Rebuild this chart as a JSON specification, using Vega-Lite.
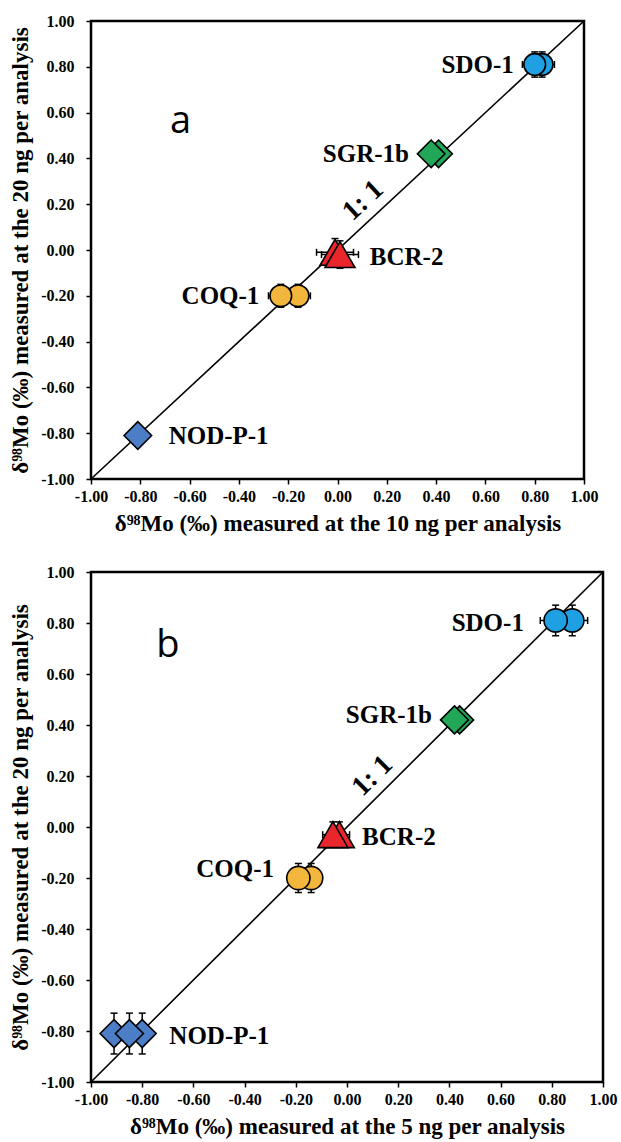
{
  "$schema": "https://vega.github.io/schema/vega-lite/v6.json",
  "padding": {"left": 8, "top": 11, "right": 5, "bottom": 2},
  "spacing": 25,
  "config": {
    "view": {"stroke": "black", "strokeWidth": 2.5},
    "axis": {
      "domain": false, "grid": false, "ticks": true, "tickColor": "black", "tickSize": 5, "tickWidth": 1.5,
      "labelFont": "Liberation Serif", "labelFontWeight": "bold", "labelFontSize": 16, "labelColor": "black", "labelOverlap": false, "labelFlush": false,
      "titleFont": "Liberation Serif", "titleFontWeight": "bold", "titleFontSize": 23, "titleColor": "black"
    },
    "axisX": {"labelPadding": 4, "titlePadding": 8},
    "axisY": {"labelPadding": 12, "titlePadding": 8}
  },
  "datasets": {
    "points": [
      {"panel": "a", "sample": "SDO-1", "x": 0.83, "y": 0.81, "xlo": 0.78, "xhi": 0.88, "ylo": 0.755, "yhi": 0.865},
      {"panel": "a", "sample": "SDO-1", "x": 0.80, "y": 0.81, "xlo": 0.75, "xhi": 0.85, "ylo": 0.755, "yhi": 0.865},
      {"panel": "a", "sample": "SGR-1b", "x": 0.41, "y": 0.42, "xlo": 0.38, "xhi": 0.44, "ylo": 0.39, "yhi": 0.45},
      {"panel": "a", "sample": "SGR-1b", "x": 0.38, "y": 0.42, "xlo": 0.35, "xhi": 0.41, "ylo": 0.39, "yhi": 0.45},
      {"panel": "a", "sample": "BCR-2", "x": -0.01, "y": -0.01, "xlo": -0.085, "xhi": 0.065, "ylo": -0.07, "yhi": 0.05},
      {"panel": "a", "sample": "BCR-2", "x": 0.01, "y": -0.02, "xlo": -0.065, "xhi": 0.085, "ylo": -0.08, "yhi": 0.04},
      {"panel": "a", "sample": "COQ-1", "x": -0.16, "y": -0.20, "xlo": -0.21, "xhi": -0.11, "ylo": -0.25, "yhi": -0.15},
      {"panel": "a", "sample": "COQ-1", "x": -0.23, "y": -0.20, "xlo": -0.28, "xhi": -0.18, "ylo": -0.25, "yhi": -0.15},
      {"panel": "a", "sample": "NOD-P-1", "x": -0.81, "y": -0.81, "xlo": -0.84, "xhi": -0.78, "ylo": -0.84, "yhi": -0.78},
      {"panel": "b", "sample": "SDO-1", "x": 0.88, "y": 0.81, "xlo": 0.82, "xhi": 0.94, "ylo": 0.75, "yhi": 0.87},
      {"panel": "b", "sample": "SDO-1", "x": 0.815, "y": 0.81, "xlo": 0.755, "xhi": 0.875, "ylo": 0.75, "yhi": 0.87},
      {"panel": "b", "sample": "SGR-1b", "x": 0.44, "y": 0.42, "xlo": 0.41, "xhi": 0.47, "ylo": 0.39, "yhi": 0.45},
      {"panel": "b", "sample": "SGR-1b", "x": 0.42, "y": 0.42, "xlo": 0.39, "xhi": 0.45, "ylo": 0.39, "yhi": 0.45},
      {"panel": "b", "sample": "BCR-2", "x": -0.03, "y": -0.03, "xlo": -0.07, "xhi": 0.01, "ylo": -0.08, "yhi": 0.02},
      {"panel": "b", "sample": "BCR-2", "x": -0.055, "y": -0.03, "xlo": -0.095, "xhi": -0.015, "ylo": -0.08, "yhi": 0.02},
      {"panel": "b", "sample": "COQ-1", "x": -0.14, "y": -0.20, "xlo": -0.18, "xhi": -0.10, "ylo": -0.257, "yhi": -0.143},
      {"panel": "b", "sample": "COQ-1", "x": -0.19, "y": -0.20, "xlo": -0.23, "xhi": -0.15, "ylo": -0.257, "yhi": -0.143},
      {"panel": "b", "sample": "NOD-P-1", "x": -0.80, "y": -0.81, "xlo": -0.84, "xhi": -0.76, "ylo": -0.89, "yhi": -0.73},
      {"panel": "b", "sample": "NOD-P-1", "x": -0.91, "y": -0.81, "xlo": -0.95, "xhi": -0.87, "ylo": -0.89, "yhi": -0.73},
      {"panel": "b", "sample": "NOD-P-1", "x": -0.85, "y": -0.81, "xlo": -0.89, "xhi": -0.81, "ylo": -0.89, "yhi": -0.73}
    ],
    "labels": [
      {"panel": "a", "label": "SDO-1", "x": 0.715, "y": 0.81},
      {"panel": "a", "label": "SGR-1b", "x": 0.29, "y": 0.42},
      {"panel": "a", "label": "COQ-1", "x": -0.317, "y": -0.20},
      {"panel": "a", "label": "BCR-2", "x": 0.131, "y": -0.03},
      {"panel": "a", "label": "NOD-P-1", "x": -0.685, "y": -0.814},
      {"panel": "b", "label": "SDO-1", "x": 0.691, "y": 0.80},
      {"panel": "b", "label": "SGR-1b", "x": 0.332, "y": 0.44},
      {"panel": "b", "label": "COQ-1", "x": -0.285, "y": -0.165},
      {"panel": "b", "label": "BCR-2", "x": 0.059, "y": -0.04},
      {"panel": "b", "label": "NOD-P-1", "x": -0.694, "y": -0.82}
    ],
    "one": [{}]
  },
  "vconcat": [
    {
      "width": 493, "height": 458,
      "layer": [
        {"data": {"name": "one"},
         "mark": {"type": "rule", "color": "black", "strokeWidth": 1.6},
         "encoding": {
           "x": {"datum": -1, "type": "quantitative", "scale": {"domain": [-1, 1], "nice": false, "zero": false},
                 "axis": {"values": [-1, -0.8, -0.6, -0.4, -0.2, 0, 0.2, 0.4, 0.6, 0.8, 1], "labelExpr": "replace(format(datum.value, '.2f'), '\u2212', '-')", "title": "δ⁹⁸Mo (‰) measured at the 10 ng per analysis"}},
           "y": {"datum": -1, "type": "quantitative", "scale": {"domain": [-1, 1], "nice": false, "zero": false},
                 "axis": {"values": [-1, -0.8, -0.6, -0.4, -0.2, 0, 0.2, 0.4, 0.6, 0.8, 1], "labelExpr": "replace(format(datum.value, '.2f'), '\u2212', '-')", "title": "δ⁹⁸Mo (‰) measured at the 20 ng per analysis"}},
           "x2": {"datum": 1}, "y2": {"datum": 1}}},
        {"data": {"name": "points"}, "transform": [{"filter": "datum.panel == 'a'"}],
         "mark": {"type": "rule", "color": "black", "strokeWidth": 1.5},
         "encoding": {"x": {"field": "xlo", "type": "quantitative"}, "x2": {"field": "xhi"}, "y": {"field": "y", "type": "quantitative"}}},
        {"data": {"name": "points"}, "transform": [{"filter": "datum.panel == 'a'"}],
         "mark": {"type": "rule", "color": "black", "strokeWidth": 1.5},
         "encoding": {"x": {"field": "x", "type": "quantitative"}, "y": {"field": "ylo", "type": "quantitative"}, "y2": {"field": "yhi"}}},
        {"data": {"name": "points"}, "transform": [{"filter": "datum.panel == 'a'"}],
         "mark": {"type": "tick", "orient": "vertical", "color": "black", "size": 7, "thickness": 1.5, "opacity": 1},
         "encoding": {"x": {"field": "xlo", "type": "quantitative"}, "y": {"field": "y", "type": "quantitative"}}},
        {"data": {"name": "points"}, "transform": [{"filter": "datum.panel == 'a'"}],
         "mark": {"type": "tick", "orient": "vertical", "color": "black", "size": 7, "thickness": 1.5, "opacity": 1},
         "encoding": {"x": {"field": "xhi", "type": "quantitative"}, "y": {"field": "y", "type": "quantitative"}}},
        {"data": {"name": "points"}, "transform": [{"filter": "datum.panel == 'a'"}],
         "mark": {"type": "tick", "orient": "horizontal", "color": "black", "size": 7, "thickness": 1.5, "opacity": 1},
         "encoding": {"x": {"field": "x", "type": "quantitative"}, "y": {"field": "ylo", "type": "quantitative"}}},
        {"data": {"name": "points"}, "transform": [{"filter": "datum.panel == 'a'"}],
         "mark": {"type": "tick", "orient": "horizontal", "color": "black", "size": 7, "thickness": 1.5, "opacity": 1},
         "encoding": {"x": {"field": "x", "type": "quantitative"}, "y": {"field": "yhi", "type": "quantitative"}}},
        {"data": {"name": "points"}, "transform": [{"filter": "datum.panel == 'a' && (datum.sample == 'SDO-1' || datum.sample == 'COQ-1')"}],
         "mark": {"type": "point", "shape": "circle", "filled": true, "size": 470, "stroke": "black", "strokeWidth": 1.6, "opacity": 1},
         "encoding": {"x": {"field": "x", "type": "quantitative"}, "y": {"field": "y", "type": "quantitative"},
           "fill": {"field": "sample", "type": "nominal", "legend": null, "scale": {"domain": ["SDO-1", "SGR-1b", "BCR-2", "COQ-1", "NOD-P-1"], "range": ["#1FA0E2", "#22A658", "#E8262B", "#F3B63C", "#4B7EC6"]}}}},
        {"data": {"name": "points"}, "transform": [{"filter": "datum.panel == 'a' && (datum.sample == 'SGR-1b' || datum.sample == 'NOD-P-1')"}],
         "mark": {"type": "point", "shape": "diamond", "filled": true, "size": 760, "stroke": "black", "strokeWidth": 1.6, "opacity": 1},
         "encoding": {"x": {"field": "x", "type": "quantitative"}, "y": {"field": "y", "type": "quantitative"},
           "fill": {"field": "sample", "type": "nominal", "legend": null}}},
        {"data": {"name": "points"}, "transform": [{"filter": "datum.panel == 'a' && datum.sample == 'BCR-2'"}],
         "mark": {"type": "point", "shape": "triangle-up", "filled": true, "size": 900, "stroke": "black", "strokeWidth": 1.6, "opacity": 1},
         "encoding": {"x": {"field": "x", "type": "quantitative"}, "y": {"field": "y", "type": "quantitative"},
           "fill": {"field": "sample", "type": "nominal", "legend": null}}},
        {"data": {"name": "labels"}, "transform": [{"filter": "datum.panel == 'a' && (datum.label == 'SDO-1' || datum.label == 'SGR-1b' || datum.label == 'COQ-1')"}],
         "mark": {"type": "text", "align": "right", "baseline": "middle", "font": "Liberation Serif", "fontWeight": "bold", "fontSize": 25, "color": "black"},
         "encoding": {"x": {"field": "x", "type": "quantitative"}, "y": {"field": "y", "type": "quantitative"}, "text": {"field": "label"}}},
        {"data": {"name": "labels"}, "transform": [{"filter": "datum.panel == 'a' && (datum.label == 'BCR-2' || datum.label == 'NOD-P-1')"}],
         "mark": {"type": "text", "align": "left", "baseline": "middle", "font": "Liberation Serif", "fontWeight": "bold", "fontSize": 25, "color": "black"},
         "encoding": {"x": {"field": "x", "type": "quantitative"}, "y": {"field": "y", "type": "quantitative"}, "text": {"field": "label"}}},
        {"data": {"name": "one"},
         "mark": {"type": "text", "text": "1: 1", "angle": -43, "align": "center", "baseline": "middle", "font": "Liberation Serif", "fontWeight": "bold", "fontSize": 28, "color": "black"},
         "encoding": {"x": {"datum": 0.104}, "y": {"datum": 0.215}}},
        {"data": {"name": "one"},
         "mark": {"type": "text", "text": "a", "align": "center", "baseline": "middle", "font": "Open Sans", "fontSize": 38, "color": "black"},
         "encoding": {"x": {"datum": -0.637}, "y": {"datum": 0.56}}}
      ]
    },
    {
      "width": 512, "height": 510,
      "layer": [
        {"data": {"name": "one"},
         "mark": {"type": "rule", "color": "black", "strokeWidth": 1.6},
         "encoding": {
           "x": {"datum": -1, "type": "quantitative", "scale": {"domain": [-1, 1], "nice": false, "zero": false},
                 "axis": {"values": [-1, -0.8, -0.6, -0.4, -0.2, 0, 0.2, 0.4, 0.6, 0.8, 1], "labelExpr": "replace(format(datum.value, '.2f'), '\u2212', '-')", "title": "δ⁹⁸Mo (‰) measured at the 5 ng per analysis"}},
           "y": {"datum": -1, "type": "quantitative", "scale": {"domain": [-1, 1], "nice": false, "zero": false},
                 "axis": {"values": [-1, -0.8, -0.6, -0.4, -0.2, 0, 0.2, 0.4, 0.6, 0.8, 1], "labelExpr": "replace(format(datum.value, '.2f'), '\u2212', '-')", "title": "δ⁹⁸Mo (‰) measured at the 20 ng per analysis"}},
           "x2": {"datum": 1}, "y2": {"datum": 1}}},
        {"data": {"name": "points"}, "transform": [{"filter": "datum.panel == 'b'"}],
         "mark": {"type": "rule", "color": "black", "strokeWidth": 1.5},
         "encoding": {"x": {"field": "xlo", "type": "quantitative"}, "x2": {"field": "xhi"}, "y": {"field": "y", "type": "quantitative"}}},
        {"data": {"name": "points"}, "transform": [{"filter": "datum.panel == 'b'"}],
         "mark": {"type": "rule", "color": "black", "strokeWidth": 1.5},
         "encoding": {"x": {"field": "x", "type": "quantitative"}, "y": {"field": "ylo", "type": "quantitative"}, "y2": {"field": "yhi"}}},
        {"data": {"name": "points"}, "transform": [{"filter": "datum.panel == 'b'"}],
         "mark": {"type": "tick", "orient": "vertical", "color": "black", "size": 7, "thickness": 1.5, "opacity": 1},
         "encoding": {"x": {"field": "xlo", "type": "quantitative"}, "y": {"field": "y", "type": "quantitative"}}},
        {"data": {"name": "points"}, "transform": [{"filter": "datum.panel == 'b'"}],
         "mark": {"type": "tick", "orient": "vertical", "color": "black", "size": 7, "thickness": 1.5, "opacity": 1},
         "encoding": {"x": {"field": "xhi", "type": "quantitative"}, "y": {"field": "y", "type": "quantitative"}}},
        {"data": {"name": "points"}, "transform": [{"filter": "datum.panel == 'b'"}],
         "mark": {"type": "tick", "orient": "horizontal", "color": "black", "size": 7, "thickness": 1.5, "opacity": 1},
         "encoding": {"x": {"field": "x", "type": "quantitative"}, "y": {"field": "ylo", "type": "quantitative"}}},
        {"data": {"name": "points"}, "transform": [{"filter": "datum.panel == 'b'"}],
         "mark": {"type": "tick", "orient": "horizontal", "color": "black", "size": 7, "thickness": 1.5, "opacity": 1},
         "encoding": {"x": {"field": "x", "type": "quantitative"}, "y": {"field": "yhi", "type": "quantitative"}}},
        {"data": {"name": "points"}, "transform": [{"filter": "datum.panel == 'b' && (datum.sample == 'SDO-1' || datum.sample == 'COQ-1')"}],
         "mark": {"type": "point", "shape": "circle", "filled": true, "size": 540, "stroke": "black", "strokeWidth": 1.6, "opacity": 1},
         "encoding": {"x": {"field": "x", "type": "quantitative"}, "y": {"field": "y", "type": "quantitative"},
           "fill": {"field": "sample", "type": "nominal", "legend": null, "scale": {"domain": ["SDO-1", "SGR-1b", "BCR-2", "COQ-1", "NOD-P-1"], "range": ["#1FA0E2", "#22A658", "#E8262B", "#F3B63C", "#4B7EC6"]}}}},
        {"data": {"name": "points"}, "transform": [{"filter": "datum.panel == 'b' && (datum.sample == 'SGR-1b' || datum.sample == 'NOD-P-1')"}],
         "mark": {"type": "point", "shape": "diamond", "filled": true, "size": 780, "stroke": "black", "strokeWidth": 1.6, "opacity": 1},
         "encoding": {"x": {"field": "x", "type": "quantitative"}, "y": {"field": "y", "type": "quantitative"},
           "fill": {"field": "sample", "type": "nominal", "legend": null}}},
        {"data": {"name": "points"}, "transform": [{"filter": "datum.panel == 'b' && datum.sample == 'BCR-2'"}],
         "mark": {"type": "point", "shape": "triangle-up", "filled": true, "size": 900, "stroke": "black", "strokeWidth": 1.6, "opacity": 1},
         "encoding": {"x": {"field": "x", "type": "quantitative"}, "y": {"field": "y", "type": "quantitative"},
           "fill": {"field": "sample", "type": "nominal", "legend": null}}},
        {"data": {"name": "labels"}, "transform": [{"filter": "datum.panel == 'b' && (datum.label == 'SDO-1' || datum.label == 'SGR-1b' || datum.label == 'COQ-1')"}],
         "mark": {"type": "text", "align": "right", "baseline": "middle", "font": "Liberation Serif", "fontWeight": "bold", "fontSize": 25, "color": "black"},
         "encoding": {"x": {"field": "x", "type": "quantitative"}, "y": {"field": "y", "type": "quantitative"}, "text": {"field": "label"}}},
        {"data": {"name": "labels"}, "transform": [{"filter": "datum.panel == 'b' && (datum.label == 'BCR-2' || datum.label == 'NOD-P-1')"}],
         "mark": {"type": "text", "align": "left", "baseline": "middle", "font": "Liberation Serif", "fontWeight": "bold", "fontSize": 25, "color": "black"},
         "encoding": {"x": {"field": "x", "type": "quantitative"}, "y": {"field": "y", "type": "quantitative"}, "text": {"field": "label"}}},
        {"data": {"name": "one"},
         "mark": {"type": "text", "text": "1: 1", "angle": -45, "align": "center", "baseline": "middle", "font": "Liberation Serif", "fontWeight": "bold", "fontSize": 28, "color": "black"},
         "encoding": {"x": {"datum": 0.10}, "y": {"datum": 0.20}}},
        {"data": {"name": "one"},
         "mark": {"type": "text", "text": "b", "align": "center", "baseline": "middle", "font": "Open Sans", "fontSize": 38, "color": "black"},
         "encoding": {"x": {"datum": -0.70}, "y": {"datum": 0.71}}}
      ]
    }
  ]
}
